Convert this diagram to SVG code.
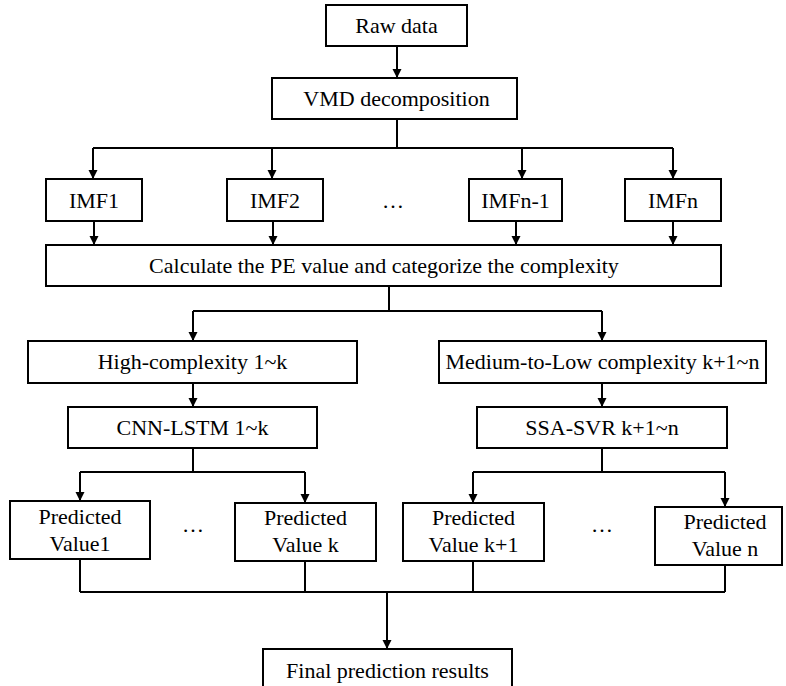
<svg xmlns="http://www.w3.org/2000/svg" width="786" height="686" viewBox="0 0 786 686">
<style>
rect{fill:#fff;stroke:#000;stroke-width:2}
text{font-family:"Liberation Serif","Times New Roman",serif;font-size:22px;fill:#000;text-anchor:middle}
.c{fill:none;stroke:#000;stroke-width:2}
</style>
<defs>
<marker id="ah" viewBox="0 0 10 10" refX="10" refY="5" markerWidth="9" markerHeight="11" markerUnits="userSpaceOnUse" orient="auto"><path d="M0,0 L10,5 L0,10 z" fill="#000"/></marker>
</defs>
<rect x="0" y="0" width="786" height="686" style="stroke:none"/>
<g id="connectors">
<path class="c" d="M397,46 V78" marker-end="url(#ah)"/>
<path class="c" d="M397,119 V148 M93,148 H673"/>
<path class="c" d="M93,148 V179" marker-end="url(#ah)"/>
<path class="c" d="M272,148 V179" marker-end="url(#ah)"/>
<path class="c" d="M522,148 V179" marker-end="url(#ah)"/>
<path class="c" d="M673,148 V179" marker-end="url(#ah)"/>
<path class="c" d="M94,221 V245" marker-end="url(#ah)"/>
<path class="c" d="M273,221 V245" marker-end="url(#ah)"/>
<path class="c" d="M516,221 V245" marker-end="url(#ah)"/>
<path class="c" d="M673,221 V245" marker-end="url(#ah)"/>
<path class="c" d="M389,286 V311 M193,311 H602"/>
<path class="c" d="M193,311 V341" marker-end="url(#ah)"/>
<path class="c" d="M602,311 V341" marker-end="url(#ah)"/>
<path class="c" d="M193,383 V407" marker-end="url(#ah)"/>
<path class="c" d="M602,383 V407" marker-end="url(#ah)"/>
<path class="c" d="M193,448 V472 M80,472 H305"/>
<path class="c" d="M80,472 V501" marker-end="url(#ah)"/>
<path class="c" d="M305,472 V503" marker-end="url(#ah)"/>
<path class="c" d="M602,448 V472 M473,472 H725"/>
<path class="c" d="M473,472 V503" marker-end="url(#ah)"/>
<path class="c" d="M725,472 V507" marker-end="url(#ah)"/>
<path class="c" d="M80,559 V592 M305,561 V592 M473,561 V592 M725,565 V592 M80,592 H725"/>
<path class="c" d="M387,592 V649" marker-end="url(#ah)"/>
</g>
<g id="raw"><rect x="326" y="5" width="141" height="41"/><text x="396.5" y="33">Raw data</text></g>
<g id="vmd"><rect x="272" y="78" width="245" height="41"/><text x="396.5" y="106">VMD decomposition</text></g>
<g id="imf1"><rect x="46" y="179" width="96" height="42"/><text x="94" y="208">IMF1</text></g>
<g id="imf2"><rect x="227" y="179" width="96" height="42"/><text x="275" y="208">IMF2</text></g>
<g id="dots1"><text x="393" y="208">…</text></g>
<g id="imfn1"><rect x="469" y="179" width="93" height="42"/><text x="515.5" y="208">IMFn-1</text></g>
<g id="imfn"><rect x="625" y="179" width="96" height="42"/><text x="673" y="208">IMFn</text></g>
<g id="calc"><rect x="46" y="245" width="675" height="41"/><text x="384" y="273">Calculate the PE value and categorize the complexity</text></g>
<g id="high"><rect x="28" y="341" width="329" height="42"/><text x="192.5" y="369">High-complexity 1~k</text></g>
<g id="medium"><rect x="439" y="341" width="327" height="42"/><text x="602.5" y="369">Medium-to-Low complexity k+1~n</text></g>
<g id="cnn"><rect x="68" y="407" width="249" height="41"/><text x="192.5" y="435">CNN-LSTM 1~k</text></g>
<g id="ssa"><rect x="477" y="407" width="250" height="41"/><text x="602" y="435">SSA-SVR k+1~n</text></g>
<g id="pv1"><rect x="10" y="501" width="140" height="58"/><text x="80" y="524">Predicted</text><text x="80" y="551">Value1</text></g>
<g id="dots2"><text x="193" y="532">…</text></g>
<g id="pvk"><rect x="235" y="503" width="141" height="58"/><text x="305.5" y="525">Predicted</text><text x="305.5" y="552">Value k</text></g>
<g id="pvk1"><rect x="403" y="503" width="141" height="58"/><text x="473.5" y="525">Predicted</text><text x="473.5" y="552">Value k+1</text></g>
<g id="dots3"><text x="602" y="532">…</text></g>
<g id="pvn"><rect x="655" y="507" width="127" height="58"/><text x="725" y="529">Predicted</text><text x="725" y="556">Value n</text></g>
<g id="final"><rect x="263" y="649" width="249" height="50"/><text x="387.5" y="678">Final prediction results</text></g>
</svg>
